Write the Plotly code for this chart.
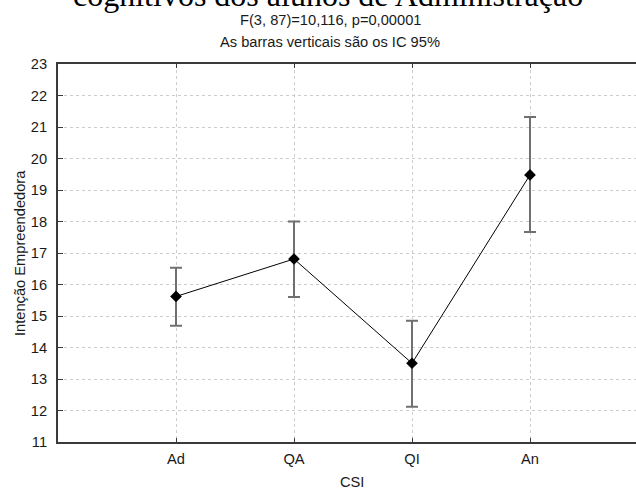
import plotly.graph_objects as go

categories = ["Ad", "QA", "QI", "An"]
means = [15.62, 16.81, 13.50, 19.48]
ci_upper = [16.53, 18.00, 14.85, 21.32]
ci_lower = [14.69, 15.60, 12.12, 17.67]
y_ticks = list(range(11, 24))

title_text = "cognitivos dos alunos de Administração"
subtitle1 = "F(3, 87)=10,116, p=0,00001"
subtitle2 = "As barras verticais são os IC 95%"
x_title = "CSI"
y_title = "Intenção Empreendedora"

xpos = list(range(1, len(categories) + 1))
err_plus = [u - m for u, m in zip(ci_upper, means)]
err_minus = [m - l for m, l in zip(means, ci_lower)]

W, H = 636, 489
ml, mr, mt, mb = 58, 0, 64, 47
pw = W - ml - mr
ph = H - mt - mb

def px_x(x):
    return (x - ml) / pw

def px_y(y):
    return 1 - (y - mt) / ph

fig = go.Figure()
fig.add_trace(go.Scatter(
    x=xpos, y=means, mode="lines+markers",
    line=dict(color="black", width=1),
    marker=dict(symbol="diamond", size=9, color="black"),
    error_y=dict(type="data", symmetric=False, array=err_plus, arrayminus=err_minus,
                 color="#707070", thickness=2, width=6),
    showlegend=False,
))

font_main = "Liberation Sans, Arial, sans-serif"
fs = 14.67

fig.update_layout(
    width=W, height=H,
    margin=dict(l=ml, r=mr, t=mt, b=mb, pad=0),
    paper_bgcolor="white", plot_bgcolor="white",
    font=dict(family=font_main, size=fs, color="#1a1a1a"),
    xaxis=dict(
        range=[0, pw / 118.0],
        tickvals=xpos, ticktext=categories,
        showline=True, linecolor="#3a3a3a", linewidth=2,
        mirror="ticks",
        ticks="inside", ticklen=4, tickcolor="#3a3a3a", tickwidth=1,
        showgrid=True, gridcolor="#cccccc", griddash="dot", gridwidth=1,
        zeroline=False,
        tickfont=dict(size=fs, family=font_main, color="#1a1a1a"),
        ticklabelstandoff=2,
    ),
    yaxis=dict(
        range=[11, 23],
        tickvals=y_ticks,
        showline=True, linecolor="#3a3a3a", linewidth=2,
        ticks="inside", ticklen=5, tickcolor="#3a3a3a", tickwidth=1,
        showgrid=True, gridcolor="#cccccc", griddash="dot", gridwidth=1,
        zeroline=False,
        tickfont=dict(size=fs, family=font_main, color="#1a1a1a"),
        ticklabelstandoff=6,
    ),
    annotations=[
        dict(text=title_text, xref="paper", yref="paper", x=px_x(328), y=px_y(-5),
             xanchor="center", yanchor="middle", showarrow=False,
             font=dict(family="Liberation Serif, Times New Roman, serif", size=32, color="black")),
        dict(text=subtitle1, xref="paper", yref="paper", x=px_x(330), y=px_y(20),
             xanchor="center", yanchor="middle", showarrow=False,
             font=dict(family=font_main, size=fs, color="#1a1a1a")),
        dict(text=subtitle2, xref="paper", yref="paper", x=px_x(330), y=px_y(42),
             xanchor="center", yanchor="middle", showarrow=False,
             font=dict(family=font_main, size=fs, color="#1a1a1a")),
        dict(text=x_title, xref="paper", yref="paper", x=px_x(352), y=px_y(482),
             xanchor="center", yanchor="middle", showarrow=False,
             font=dict(family=font_main, size=fs, color="#1a1a1a")),
        dict(text=y_title, xref="paper", yref="paper", x=px_x(20), y=px_y(253),
             xanchor="center", yanchor="middle", showarrow=False, textangle=-90,
             font=dict(family=font_main, size=fs, color="#1a1a1a")),
    ],
)

fig.write_html("out.html", config={"displayModeBar": False},
               post_script="document.body.style.margin='0';")
